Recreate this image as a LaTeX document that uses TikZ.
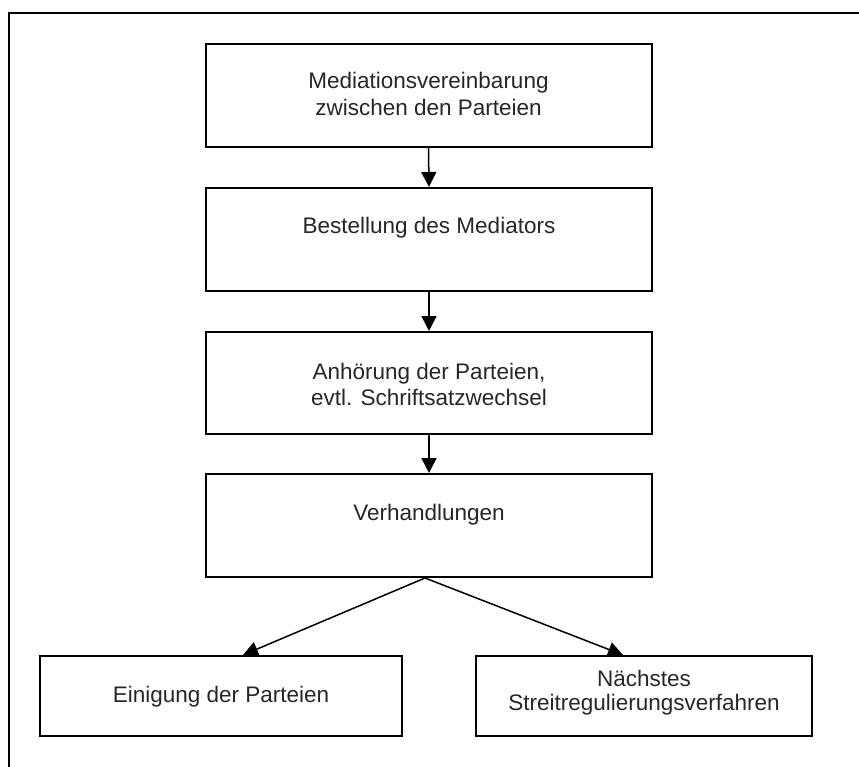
\documentclass[tikz,border=0pt]{standalone}
\usepackage{fontspec}
\setmainfont{Liberation Sans}
\usetikzlibrary{arrows.meta}
\definecolor{txtgray}{RGB}{38,38,38}
\begin{document}
\begin{tikzpicture}[x=1pt,y=-1pt,
  stepbox/.style={draw=black, line width=2pt, rectangle, inner sep=0pt},
  boxtext/.style={align=center, text=txtgray, inner sep=0pt,
    font=\fontsize{22.5}{26.5}\selectfont},
  flow/.style={draw=black, line width=1.5pt,
    -{Triangle[width=15pt,length=15pt]}}]
  \useasboundingbox (0,0) rectangle (859,767);
  \clip (0,0) rectangle (859,767);
  % outer frame (runs off the page to the right and bottom)
  \draw[line width=2.5pt] (9,800) -- (9,13) -- (900,13);

  % main sequence
  \node[stepbox, minimum width=446pt, minimum height=103pt,
    label={[boxtext, yshift=1.5pt]center:Mediationsvereinbarung\\zwischen den Parteien}]
    (b1) at (428.5,95.5) {};
  \node[stepbox, minimum width=446pt, minimum height=103pt,
    label={[boxtext, yshift=12pt]center:Bestellung des Mediators}]
    (b2) at (429,239.5) {};
  \node[stepbox, minimum width=446pt, minimum height=102pt,
    label={[boxtext, yshift=-1.5pt]center:Anhörung der Parteien,\\evtl. Schriftsatzwechsel}]
    (b3) at (429,383) {};
  \node[stepbox, minimum width=446pt, minimum height=103pt,
    label={[boxtext, yshift=11pt]center:Verhandlungen}]
    (b4) at (429,525.5) {};

  % outcomes
  \node[stepbox, minimum width=362pt, minimum height=80pt,
    label={[boxtext, yshift=-1pt]center:Einigung der Parteien}]
    (b5) at (221,696) {};
  \node[stepbox, minimum width=336pt, minimum height=80pt,
    label={[boxtext, font=\fontsize{22.5}{24}\selectfont, yshift=3.5pt]center:Nächstes\\Streitregulierungsverfahren}]
    (b6) at (644,696) {};

  % connectors
  \draw[flow] (b1.south) -- (b2.north);
  \draw[flow] (b2.south) -- (b3.north);
  \draw[flow] (b3.south) -- (b4.north);
  \draw[flow] ([xshift=-4pt]b4.south) -- ([xshift=22pt]b5.north);
  \draw[flow] ([xshift=-4pt]b4.south) -- ([xshift=-21pt]b6.north);
\end{tikzpicture}
\end{document}
